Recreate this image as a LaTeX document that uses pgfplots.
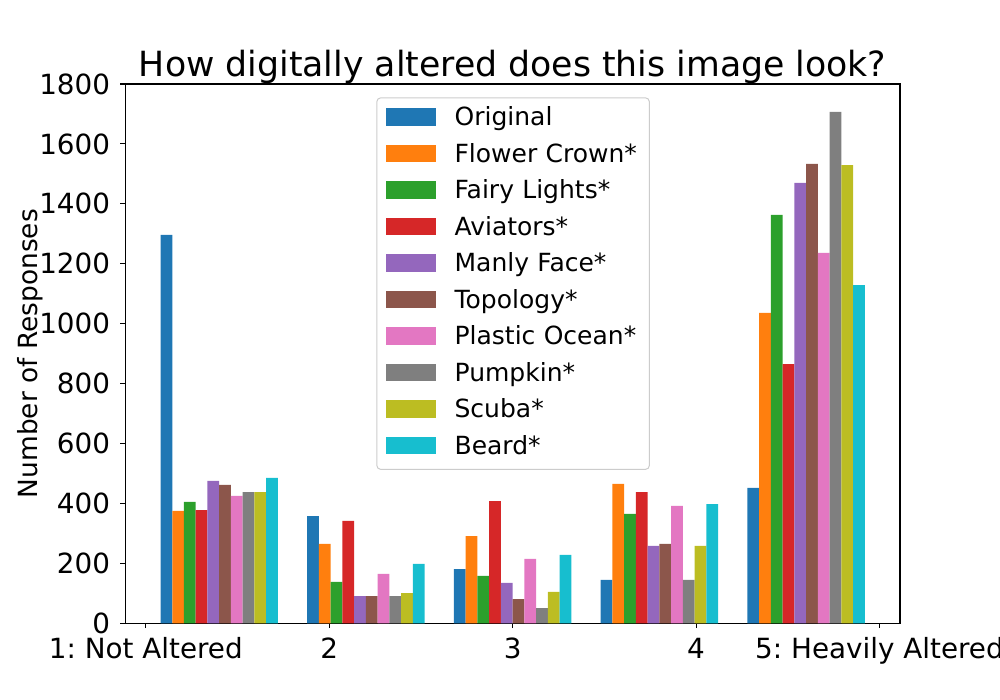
\documentclass[border=0pt]{standalone}
\usepackage{pgfplots}
\pgfplotsset{compat=1.18}
\usepackage{fontspec}
\setmainfont{DejaVu Sans}
\frenchspacing
\definecolor{c0}{HTML}{1F77B4}
\definecolor{c1}{HTML}{FF7F0E}
\definecolor{c2}{HTML}{2CA02C}
\definecolor{c3}{HTML}{D62728}
\definecolor{c4}{HTML}{9467BD}
\definecolor{c5}{HTML}{8C564B}
\definecolor{c6}{HTML}{E377C2}
\definecolor{c7}{HTML}{7F7F7F}
\definecolor{c8}{HTML}{BCBD22}
\definecolor{c9}{HTML}{17BECF}
\pgfplotsset{
  mybar/.style={ybar, bar width=0.08, bar shift=0pt, draw=none, fill=#1},
}
\begin{document}
\frenchspacing
\begin{tikzpicture}
\path[use as bounding box] (0,0) rectangle (1000bp,700bp);
\begin{axis}[
  at={(125.3bp,76.7bp)}, anchor=south west,
  scale only axis, width=774.7bp, height=539.3bp,
  xmin=-0.28, xmax=5.0, ymin=0, ymax=1800,
  axis line style={line width=1.1bp},
  every tick/.style={line width=1.1bp, black},
  major tick length=4.9bp, tick align=outside, tick pos=left,
  xtick={-0.14,1.11,2.36,3.61,4.86},
  xticklabels={1: Not Altered,2,3,4,5: Heavily Altered},
  ytick={0,200,400,600,800,1000,1200,1400,1600,1800},
  yticklabels={0,200,400,600,800,1000,1200,1400,1600,1800},
  ticklabel style={font=\fontsize{27.8bp}{33bp}\selectfont\frenchspacing, inner sep=0pt},
  xticklabel style={anchor=north, text height=20.3bp, text depth=0pt, yshift=-10.2bp},
  yticklabel style={anchor=east, text height=20.3bp, text depth=0pt, xshift=-10.2bp},
  ylabel={Number of Responses},
  every axis y label/.style={at={(axis description cs:-0.1139,0.5)}, rotate=90, anchor=base,
     font=\fontsize{26.4bp}{31bp}\selectfont},
  title={How digitally altered does this image look?},
  every axis title/.style={at={(axis description cs:0.5,1)}, anchor=base, yshift=7.6bp,
     font=\fontsize{34.7bp}{40bp}\selectfont},
  legend cell align=left,
  legend image code/.code={\fill[#1, draw=none, sharp corners] (0bp,-6.4bp) rectangle (50bp,10.9bp);},
  legend style={at={(axis description cs:0.3240,0.9753)}, anchor=north west,
     draw=black!20, line width=1bp, rounded corners=4bp, fill=white,
     inner xsep=9.3bp, inner ysep=9.5bp, row sep=12.4bp,
     font=\fontsize{25bp}{30bp}\selectfont,
     nodes={inner sep=0pt, text height=18.2bp, text depth=5.9bp, text width=185.5bp, align=left},
     /tikz/every odd column/.append style={column sep=18.5bp}},
]
\addplot[mybar=c0] coordinates {(0.00,1296) (1.00,358) (2.00,181) (3.00,145) (4.00,452)};
\addplot[mybar=c1] coordinates {(0.08,375) (1.08,265) (2.08,291) (3.08,465) (4.08,1036)};
\addplot[mybar=c2] coordinates {(0.16,405) (1.16,138) (2.16,158) (3.16,365) (4.16,1363)};
\addplot[mybar=c3] coordinates {(0.24,378) (1.24,342) (2.24,408) (3.24,438) (4.24,865)};
\addplot[mybar=c4] coordinates {(0.32,475) (1.32,91) (2.32,135) (3.32,258) (4.32,1470)};
\addplot[mybar=c5] coordinates {(0.40,462) (1.40,91) (2.40,81) (3.40,265) (4.40,1533)};
\addplot[mybar=c6] coordinates {(0.48,425) (1.48,165) (2.48,215) (3.48,392) (4.48,1236)};
\addplot[mybar=c7] coordinates {(0.56,438) (1.56,91) (2.56,51) (3.56,145) (4.56,1707)};
\addplot[mybar=c8] coordinates {(0.64,438) (1.64,101) (2.64,105) (3.64,258) (4.64,1529)};
\addplot[mybar=c9] coordinates {(0.72,485) (1.72,198) (2.72,228) (3.72,398) (4.72,1129)};
\legend{Original,Flower Crown*,Fairy Lights*,Aviators*,Manly Face*,Topology*,Plastic Ocean*,Pumpkin*,Scuba*,Beard*}
\end{axis}
\end{tikzpicture}
\end{document}
